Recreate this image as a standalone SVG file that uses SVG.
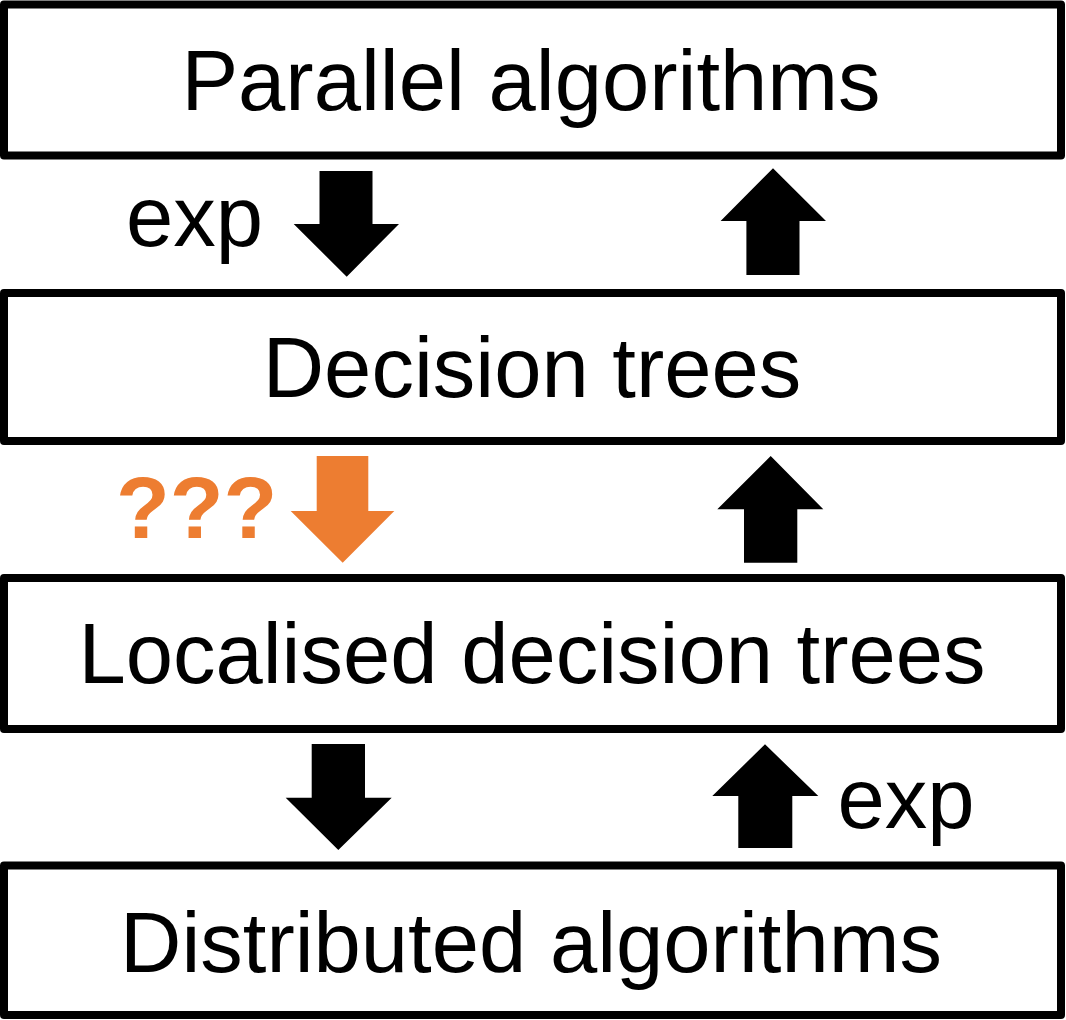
<svg xmlns="http://www.w3.org/2000/svg" width="1066" height="1020" viewBox="0 0 1066 1020">
<style>
.box{fill:#fff;stroke:#000;stroke-width:8;stroke-linejoin:round}
.lbl{font-family:"Liberation Sans",Arial,sans-serif;font-size:85px;fill:#000}
.mid{text-anchor:middle}
.arr{fill:#000}
.org{fill:#ED7D31}
.q{font-family:"Liberation Sans",Arial,sans-serif;font-size:88px;font-weight:bold;fill:#ED7D31}
</style>
<rect width="1066" height="1020" fill="#fff"/>
<g id="node-parallel">
<rect class="box" x="4" y="4.5" width="1057" height="151"/>
<text class="lbl mid" x="531" y="110">Parallel algorithms</text>
</g>
<g id="node-decision">
<rect class="box" x="4" y="293" width="1057" height="148"/>
<text class="lbl mid" x="532" y="396.7">Decision trees</text>
</g>
<g id="node-localised">
<rect class="box" x="4" y="578" width="1057" height="151"/>
<text class="lbl mid" x="532" y="683.3">Localised decision trees</text>
</g>
<g id="node-distributed">
<rect class="box" x="4" y="865.5" width="1057" height="149.5"/>
<text class="lbl mid" x="531" y="971.7">Distributed algorithms</text>
</g>
<g id="connectors">
<polygon class="arr" points="319.5,171 372.5,171 372.5,224 399,224 346.7,276.7 293.7,224 319.5,224"/>
<text class="lbl" x="126" y="245.7">exp</text>
<polygon class="arr" points="773,168.3 826,221 799.5,221 799.5,275 746.4,275 746.4,221 720.6,221"/>
<polygon class="org" points="316.7,456 368.3,456 368.3,511 394.3,511 342.7,562.7 290.7,511 316.7,511"/>
<text class="q" x="116" y="537.7">???</text>
<polygon class="arr" points="770.7,456 823.3,509.3 797.3,509.3 797.3,562.7 744,562.7 744,509.3 717.3,509.3"/>
<polygon class="arr" points="311.7,744 365,744 365,797.7 391.7,797.7 338.3,850 285.7,797.7 311.7,797.7"/>
<polygon class="arr" points="765,744.3 818.3,796 792.3,796 792.3,848 738.3,848 738.3,796 712.3,796"/>
<text class="lbl" x="837.5" y="827.7">exp</text>
</g>
</svg>
